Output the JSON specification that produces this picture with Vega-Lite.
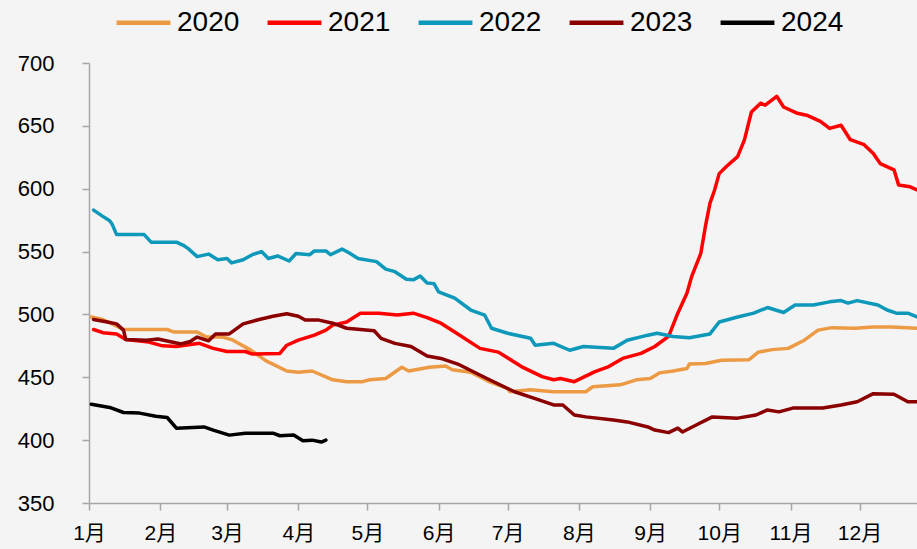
{
  "$schema": "https://vega.github.io/schema/vega-lite/v6.json",
  "width": 828,
  "height": 440,
  "autosize": {"type": "none"},
  "padding": {"left": 89, "top": 63, "right": 0, "bottom": 46},
  "background": "#f4f4f4",
  "config": {"view": {"stroke": null}},
  "data": {
    "values": [
      {"year":"2020","date":"2020-01-02","value":498},{"year":"2020","date":"2020-01-07","value":496},{"year":"2020","date":"2020-01-16","value":488},{"year":"2020","date":"2020-02-04","value":488},{"year":"2020","date":"2020-02-07","value":486},{"year":"2020","date":"2020-02-17","value":486},{"year":"2020","date":"2020-02-21","value":482},{"year":"2020","date":"2020-02-28","value":482},{"year":"2020","date":"2020-03-03","value":480},{"year":"2020","date":"2020-03-11","value":472},{"year":"2020","date":"2020-03-18","value":463},{"year":"2020","date":"2020-03-27","value":455},{"year":"2020","date":"2020-04-01","value":454},{"year":"2020","date":"2020-04-07","value":455},{"year":"2020","date":"2020-04-16","value":448},{"year":"2020","date":"2020-04-22","value":446.5},{"year":"2020","date":"2020-04-29","value":446.5},{"year":"2020","date":"2020-05-02","value":448},{"year":"2020","date":"2020-05-09","value":449},{"year":"2020","date":"2020-05-16","value":458},{"year":"2020","date":"2020-05-19","value":455},{"year":"2020","date":"2020-05-28","value":458},{"year":"2020","date":"2020-06-04","value":459},{"year":"2020","date":"2020-06-07","value":456},{"year":"2020","date":"2020-06-15","value":454},{"year":"2020","date":"2020-06-23","value":446.5},{"year":"2020","date":"2020-07-01","value":441},{"year":"2020","date":"2020-07-02","value":438.5},{"year":"2020","date":"2020-07-11","value":440},{"year":"2020","date":"2020-07-21","value":438.5},{"year":"2020","date":"2020-08-04","value":438.5},{"year":"2020","date":"2020-08-07","value":442.5},{"year":"2020","date":"2020-08-19","value":444},{"year":"2020","date":"2020-08-26","value":448},{"year":"2020","date":"2020-09-01","value":449},{"year":"2020","date":"2020-09-05","value":453.5},{"year":"2020","date":"2020-09-11","value":455},{"year":"2020","date":"2020-09-17","value":457},{"year":"2020","date":"2020-09-18","value":460.5},{"year":"2020","date":"2020-09-25","value":461},{"year":"2020","date":"2020-10-02","value":463.5},{"year":"2020","date":"2020-10-14","value":464},{"year":"2020","date":"2020-10-18","value":470},{"year":"2020","date":"2020-10-24","value":472},{"year":"2020","date":"2020-10-31","value":473},{"year":"2020","date":"2020-11-07","value":479.5},{"year":"2020","date":"2020-11-13","value":487.5},{"year":"2020","date":"2020-11-19","value":489.5},{"year":"2020","date":"2020-11-29","value":489},{"year":"2020","date":"2020-12-07","value":490},{"year":"2020","date":"2020-12-15","value":490},{"year":"2020","date":"2020-12-26","value":489},

      {"year":"2021","date":"2020-01-03","value":488},{"year":"2021","date":"2020-01-07","value":485.5},{"year":"2021","date":"2020-01-13","value":484.5},{"year":"2021","date":"2020-01-17","value":480},{"year":"2021","date":"2020-01-27","value":478},{"year":"2021","date":"2020-02-02","value":475},{"year":"2021","date":"2020-02-08","value":474.5},{"year":"2021","date":"2020-02-18","value":477},{"year":"2021","date":"2020-02-24","value":473},{"year":"2021","date":"2020-03-01","value":470.5},{"year":"2021","date":"2020-03-09","value":470.5},{"year":"2021","date":"2020-03-12","value":468.5},{"year":"2021","date":"2020-03-24","value":469},{"year":"2021","date":"2020-03-27","value":475.5},{"year":"2021","date":"2020-04-01","value":479.5},{"year":"2021","date":"2020-04-08","value":483.5},{"year":"2021","date":"2020-04-13","value":487.5},{"year":"2021","date":"2020-04-16","value":491.5},{"year":"2021","date":"2020-04-22","value":494},{"year":"2021","date":"2020-04-28","value":501},{"year":"2021","date":"2020-05-06","value":501},{"year":"2021","date":"2020-05-14","value":499.5},{"year":"2021","date":"2020-05-21","value":501},{"year":"2021","date":"2020-05-27","value":497.5},{"year":"2021","date":"2020-06-02","value":493},{"year":"2021","date":"2020-06-08","value":486},{"year":"2021","date":"2020-06-19","value":473},{"year":"2021","date":"2020-06-27","value":470},{"year":"2021","date":"2020-07-07","value":458.5},{"year":"2021","date":"2020-07-16","value":450.5},{"year":"2021","date":"2020-07-21","value":448},{"year":"2021","date":"2020-07-24","value":449},{"year":"2021","date":"2020-07-30","value":446.5},{"year":"2021","date":"2020-08-08","value":454.5},{"year":"2021","date":"2020-08-14","value":458.5},{"year":"2021","date":"2020-08-20","value":465},{"year":"2021","date":"2020-08-28","value":469},{"year":"2021","date":"2020-09-03","value":474.5},{"year":"2021","date":"2020-09-09","value":482.5},{"year":"2021","date":"2020-09-13","value":501},{"year":"2021","date":"2020-09-17","value":517},{"year":"2021","date":"2020-09-19","value":530},{"year":"2021","date":"2020-09-23","value":548.5},{"year":"2021","date":"2020-09-25","value":570},{"year":"2021","date":"2020-09-27","value":588.5},{"year":"2021","date":"2020-09-29","value":599},{"year":"2021","date":"2020-10-01","value":612},{"year":"2021","date":"2020-10-04","value":617.5},{"year":"2021","date":"2020-10-09","value":625.5},{"year":"2021","date":"2020-10-12","value":639},{"year":"2021","date":"2020-10-15","value":661},{"year":"2021","date":"2020-10-19","value":668},{"year":"2021","date":"2020-10-21","value":666.5},{"year":"2021","date":"2020-10-26","value":673.5},{"year":"2021","date":"2020-10-29","value":665},{"year":"2021","date":"2020-11-04","value":660},{"year":"2021","date":"2020-11-08","value":658.5},{"year":"2021","date":"2020-11-14","value":653.5},{"year":"2021","date":"2020-11-18","value":648},{"year":"2021","date":"2020-11-23","value":650.5},{"year":"2021","date":"2020-11-27","value":639},{"year":"2021","date":"2020-12-03","value":635},{"year":"2021","date":"2020-12-07","value":628},{"year":"2021","date":"2020-12-10","value":620},{"year":"2021","date":"2020-12-16","value":615},{"year":"2021","date":"2020-12-18","value":603},{"year":"2021","date":"2020-12-23","value":601.5},{"year":"2021","date":"2020-12-26","value":599},

      {"year":"2022","date":"2020-01-03","value":583},{"year":"2022","date":"2020-01-07","value":578},{"year":"2022","date":"2020-01-10","value":574.5},{"year":"2022","date":"2020-01-11","value":572},{"year":"2022","date":"2020-01-13","value":563.5},{"year":"2022","date":"2020-01-25","value":563.5},{"year":"2022","date":"2020-01-28","value":557.5},{"year":"2022","date":"2020-02-08","value":557.5},{"year":"2022","date":"2020-02-11","value":555},{"year":"2022","date":"2020-02-13","value":552.5},{"year":"2022","date":"2020-02-17","value":546},{"year":"2022","date":"2020-02-22","value":548},{"year":"2022","date":"2020-02-26","value":543.5},{"year":"2022","date":"2020-03-01","value":544.5},{"year":"2022","date":"2020-03-03","value":541},{"year":"2022","date":"2020-03-08","value":543.5},{"year":"2022","date":"2020-03-12","value":547.5},{"year":"2022","date":"2020-03-16","value":550},{"year":"2022","date":"2020-03-19","value":544.5},{"year":"2022","date":"2020-03-23","value":546.5},{"year":"2022","date":"2020-03-28","value":542.5},{"year":"2022","date":"2020-03-31","value":548.5},{"year":"2022","date":"2020-04-06","value":547.5},{"year":"2022","date":"2020-04-08","value":550.5},{"year":"2022","date":"2020-04-13","value":550.5},{"year":"2022","date":"2020-04-15","value":547.5},{"year":"2022","date":"2020-04-20","value":552},{"year":"2022","date":"2020-04-23","value":549},{"year":"2022","date":"2020-04-27","value":544.5},{"year":"2022","date":"2020-05-05","value":542},{"year":"2022","date":"2020-05-09","value":536},{"year":"2022","date":"2020-05-13","value":534},{"year":"2022","date":"2020-05-18","value":528},{"year":"2022","date":"2020-05-21","value":527.5},{"year":"2022","date":"2020-05-24","value":530.5},{"year":"2022","date":"2020-05-27","value":525},{"year":"2022","date":"2020-05-30","value":524.5},{"year":"2022","date":"2020-06-01","value":518},{"year":"2022","date":"2020-06-08","value":513},{"year":"2022","date":"2020-06-15","value":503.5},{"year":"2022","date":"2020-06-21","value":499.5},{"year":"2022","date":"2020-06-24","value":489},{"year":"2022","date":"2020-07-01","value":485},{"year":"2022","date":"2020-07-11","value":481},{"year":"2022","date":"2020-07-13","value":475.5},{"year":"2022","date":"2020-07-21","value":477},{"year":"2022","date":"2020-07-28","value":471.5},{"year":"2022","date":"2020-08-03","value":474.5},{"year":"2022","date":"2020-08-16","value":473},{"year":"2022","date":"2020-08-22","value":479.5},{"year":"2022","date":"2020-08-31","value":483.5},{"year":"2022","date":"2020-09-04","value":485},{"year":"2022","date":"2020-09-11","value":482.5},{"year":"2022","date":"2020-09-18","value":481.5},{"year":"2022","date":"2020-09-27","value":484.5},{"year":"2022","date":"2020-10-01","value":494},{"year":"2022","date":"2020-10-09","value":498},{"year":"2022","date":"2020-10-16","value":501},{"year":"2022","date":"2020-10-22","value":505.5},{"year":"2022","date":"2020-10-29","value":501.5},{"year":"2022","date":"2020-11-03","value":507.5},{"year":"2022","date":"2020-11-11","value":507.5},{"year":"2022","date":"2020-11-18","value":510},{"year":"2022","date":"2020-11-23","value":511},{"year":"2022","date":"2020-11-26","value":509},{"year":"2022","date":"2020-11-30","value":511},{"year":"2022","date":"2020-12-09","value":507.5},{"year":"2022","date":"2020-12-13","value":503.5},{"year":"2022","date":"2020-12-17","value":501},{"year":"2022","date":"2020-12-22","value":501},{"year":"2022","date":"2020-12-26","value":498},

      {"year":"2023","date":"2020-01-03","value":496},{"year":"2023","date":"2020-01-09","value":494},{"year":"2023","date":"2020-01-13","value":492.5},{"year":"2023","date":"2020-01-16","value":487.5},{"year":"2023","date":"2020-01-17","value":480},{"year":"2023","date":"2020-01-26","value":479.5},{"year":"2023","date":"2020-01-31","value":480.5},{"year":"2023","date":"2020-02-05","value":478.5},{"year":"2023","date":"2020-02-10","value":476.5},{"year":"2023","date":"2020-02-14","value":478.5},{"year":"2023","date":"2020-02-17","value":482},{"year":"2023","date":"2020-02-22","value":479},{"year":"2023","date":"2020-02-25","value":484.5},{"year":"2023","date":"2020-03-02","value":484.5},{"year":"2023","date":"2020-03-08","value":492.5},{"year":"2023","date":"2020-03-15","value":496},{"year":"2023","date":"2020-03-21","value":498.5},{"year":"2023","date":"2020-03-27","value":500.5},{"year":"2023","date":"2020-04-01","value":498.5},{"year":"2023","date":"2020-04-04","value":495.5},{"year":"2023","date":"2020-04-10","value":495.5},{"year":"2023","date":"2020-04-16","value":493},{"year":"2023","date":"2020-04-22","value":489},{"year":"2023","date":"2020-05-04","value":487},{"year":"2023","date":"2020-05-07","value":481},{"year":"2023","date":"2020-05-13","value":477},{"year":"2023","date":"2020-05-20","value":474.5},{"year":"2023","date":"2020-05-27","value":467},{"year":"2023","date":"2020-06-02","value":465},{"year":"2023","date":"2020-06-10","value":460},{"year":"2023","date":"2020-06-22","value":449},{"year":"2023","date":"2020-07-04","value":438.5},{"year":"2023","date":"2020-07-13","value":433},{"year":"2023","date":"2020-07-21","value":428},{"year":"2023","date":"2020-07-25","value":428},{"year":"2023","date":"2020-07-30","value":420},{"year":"2023","date":"2020-08-04","value":418.5},{"year":"2023","date":"2020-08-16","value":416},{"year":"2023","date":"2020-08-22","value":414.5},{"year":"2023","date":"2020-08-31","value":410.5},{"year":"2023","date":"2020-09-03","value":408},{"year":"2023","date":"2020-09-09","value":406},{"year":"2023","date":"2020-09-13","value":409.5},{"year":"2023","date":"2020-09-15","value":406.5},{"year":"2023","date":"2020-09-21","value":412},{"year":"2023","date":"2020-09-28","value":418.5},{"year":"2023","date":"2020-10-09","value":417.5},{"year":"2023","date":"2020-10-17","value":420},{"year":"2023","date":"2020-10-22","value":424},{"year":"2023","date":"2020-10-27","value":422.5},{"year":"2023","date":"2020-11-02","value":425.5},{"year":"2023","date":"2020-11-15","value":425.5},{"year":"2023","date":"2020-11-23","value":428},{"year":"2023","date":"2020-11-30","value":430.5},{"year":"2023","date":"2020-12-07","value":437},{"year":"2023","date":"2020-12-16","value":436.5},{"year":"2023","date":"2020-12-22","value":430.5},{"year":"2023","date":"2020-12-26","value":430.5},

      {"year":"2024","date":"2020-01-02","value":428.5},{"year":"2024","date":"2020-01-10","value":426},{"year":"2024","date":"2020-01-16","value":422},{"year":"2024","date":"2020-01-23","value":421.5},{"year":"2024","date":"2020-01-30","value":419},{"year":"2024","date":"2020-02-04","value":418},{"year":"2024","date":"2020-02-08","value":409.5},{"year":"2024","date":"2020-02-20","value":410.5},{"year":"2024","date":"2020-02-24","value":408},{"year":"2024","date":"2020-03-02","value":404},{"year":"2024","date":"2020-03-09","value":405.5},{"year":"2024","date":"2020-03-21","value":405.5},{"year":"2024","date":"2020-03-24","value":403.5},{"year":"2024","date":"2020-03-30","value":404},{"year":"2024","date":"2020-04-03","value":399.5},{"year":"2024","date":"2020-04-07","value":400},{"year":"2024","date":"2020-04-11","value":398.5},{"year":"2024","date":"2020-04-13","value":400}
    ]
  },
  "mark": {"type": "line", "strokeWidth": 3.5, "clip": true, "strokeJoin": "round", "strokeCap": "round"},
  "encoding": {
    "x": {
      "field": "date", "type": "temporal",
      "scale": {"type": "utc", "domain": ["2020-01-01", "2020-12-26"]},
      "axis": {
        "title": null, "grid": false, "format": "%-m月", "tickCount": {"interval": "month", "step": 1},
        "domainColor": "#a6a6a6", "tickColor": "#a6a6a6", "domainWidth": 1.5, "tickWidth": 1.5, "tickSize": 7,
        "labelFont": "Liberation Sans, Noto Sans CJK SC", "labelFontSize": 21, "labelColor": "#000000",
        "labelPadding": 12, "labelAlign": "center", "labelOverlap": false, "labelFlush": false
      }
    },
    "y": {
      "field": "value", "type": "quantitative",
      "scale": {"domain": [350, 700], "nice": false, "zero": false},
      "axis": {
        "title": null, "grid": false, "values": [350, 400, 450, 500, 550, 600, 650, 700],
        "domainColor": "#a6a6a6", "tickColor": "#a6a6a6", "domainWidth": 1.5, "tickWidth": 1.5, "tickSize": 7,
        "labelFont": "Liberation Sans", "labelFontSize": 22, "labelColor": "#000000", "labelPadding": 28
      }
    },
    "color": {
      "field": "year", "type": "nominal",
      "scale": {"domain": ["2020", "2021", "2022", "2023", "2024"], "range": ["#ED9A45", "#FF0000", "#0E98BA", "#8B0000", "#000000"]},
      "legend": {
        "title": null, "orient": "none", "direction": "horizontal", "legendX": 25, "legendY": -70,
        "columns": 5, "gridAlign": "all",
        "symbolType": "stroke", "symbolSize": 2900, "symbolStrokeWidth": 4.5,
        "labelFont": "Liberation Sans", "labelFontSize": 28, "labelColor": "#000000", "labelOffset": 4,
        "columnPadding": 18
      }
    }
  }
}
